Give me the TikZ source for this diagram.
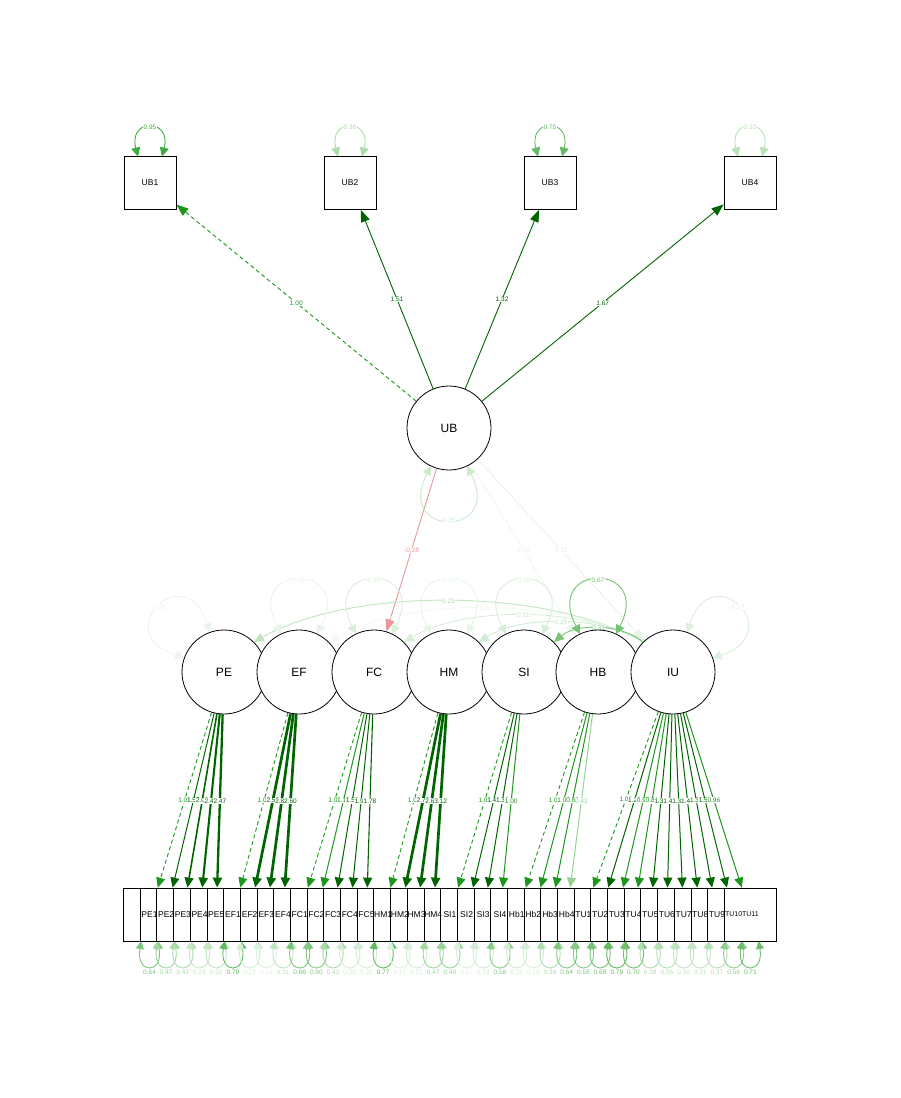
\documentclass[tikz,border=0pt]{standalone}
\usepackage{fontspec}
\setmainfont{Liberation Sans}
\usetikzlibrary{arrows.meta,calc}
\pgfdeclarelayer{bg}
\pgfsetlayers{bg,main}
\definecolor{dg}{RGB}{0,100,0}
\definecolor{mg}{RGB}{30,150,30}
\definecolor{lg}{RGB}{150,210,150}
\definecolor{gb}{RGB}{50,165,50}
\definecolor{negr}{RGB}{232,150,150}
\tikzset{
  obs/.style={draw, fill=white, rectangle, minimum width=52pt, minimum height=53pt,
    inner sep=0pt, line width=0.8pt, font=\fontsize{8.5}{8.5}\selectfont},
  lat/.style={draw, fill=white, circle, minimum size=84pt, inner sep=0pt,
    line width=0.8pt, font=\fontsize{12}{12}\selectfont},
  olab/.style={inner sep=0pt, font=\fontsize{8.5}{8.5}\selectfont},
  elab/.style={fill=white, inner sep=0.5pt, font=\fontsize{6.5}{6.5}\selectfont},
  arr/.style={-{Triangle[length=10pt,width=9pt]}},
  arrbig/.style={-{Triangle[length=12pt,width=9pt]}},
  loopar/.style={{Triangle[length=9pt,width=9pt]}-{Triangle[length=9pt,width=9pt]}},
  sloopar/.style={{Triangle[length=8pt,width=8pt]}-{Triangle[length=8pt,width=8pt]}},
  edge/.style={line width=0.9pt},
  dsh/.style={dash pattern=on 4pt off 3pt},
  sol/.style={solid},
}
% variance loop on a latent variable, turned by #2 degrees from the top
\newcommand\latloop[4]{%
  \begin{scope}[shift={(#1.center)}, rotate=#2]
    \draw[edge, #4, loopar] (-18,-38) .. controls (-55,-110) and (55,-110) .. (18,-38)
      node[elab, pos=0.5, text=#4] {#3};
  \end{scope}}
% variance loop above an indicator box
\newcommand\boxloop[3]{%
  \draw[edge, #3, loopar] ($(#1.center)+(-12,-26.5)$) .. controls ($(#1.center)+(-22,-65)$)
    and ($(#1.center)+(22,-65)$) .. ($(#1.center)+(12,-26.5)$)
    node[elab, pos=0.5, text=#3] {#2};}
\begin{document}
\begin{tikzpicture}[x=1pt, y=-1pt]
\useasboundingbox (0,0) rectangle (900,1098);
\begin{pgfonlayer}{bg}
  \fill[white] (0,0) rectangle (900,1098);
\end{pgfonlayer}

% indicators of UB
\foreach \nm/\x in {UB1/150, UB2/350, UB3/550, UB4/750}
  \node[obs] (\nm) at (\x,183) {\nm};

% latent variables
\node[lat] (UB) at (449,428) {UB};
\foreach \nm/\x in {PE/224, EF/299, FC/374, HM/449, SI/524, HB/598, IU/673}
  \node[lat] (\nm) at (\x,672) {\nm};

% row of indicator boxes (overlapping), labels on top
\foreach \k in {0,...,36}
  \node[obs] (o\k) at ({149.5+16.69*\k},914.5) {};
\foreach \nm [count=\k from 0] in {PE1,PE2,PE3,PE4,PE5,EF1,EF2,EF3,EF4,FC1,FC2,FC3,FC4,FC5,
    HM1,HM2,HM3,HM4,SI1,SI2,SI3,SI4,Hb1,Hb2,Hb3,Hb4,TU1,TU2,TU3,TU4,TU5,TU6,TU7,TU8,TU9}
  \node[olab] at (o\k) {\nm};
\node[olab, font=\fontsize{7}{7}\selectfont] at (o35) {TU10};
\node[olab, font=\fontsize{7}{7}\selectfont] at (o36) {TU11};

\begin{pgfonlayer}{bg}
  % loadings of UB
  \draw[edge, mg, dsh, arrbig] (UB) -- (UB1) node[elab, pos=0.5, text=mg] {1.00};
  \draw[edge, dg, arrbig] (UB) -- (UB2) node[elab, pos=0.5, text=dg] {1.51};
  \draw[edge, dg, arrbig] (UB) -- (UB3) node[elab, pos=0.5, text=dg] {1.32};
  \draw[edge, dg, arrbig] (UB) -- (UB4) node[elab, pos=0.5, text=dg] {1.67};

  % variances of the UB indicators
  \boxloop{UB1}{0.95}{gb!95!white}
  \boxloop{UB2}{0.39}{gb!39!white}
  \boxloop{UB3}{0.75}{gb!75!white}
  \boxloop{UB4}{0.33}{gb!33!white}

  % paths leaving UB
  \draw[edge, negr, arrbig] (UB) -- (FC) node[elab, pos=0.5, text=negr] {-0.28};
  \draw[line width=0.8pt, gb!8!white, arrbig] (UB) -- (HB) node[elab, pos=0.5, text=gb!12!white] {0.08};
  \draw[line width=0.8pt, gb!12!white, arrbig] (UB) -- (IU) node[elab, pos=0.5, text=gb!16!white] {0.12};

  % curved paths from IU
  \draw[edge, gb!30!white, arr] (IU.135) .. controls (546,587) and (351,587) .. (PE.45)
    node[elab, pos=0.5, text=gb!40!white] {0.23};
  \draw[edge, gb!6!white, arr] (IU.135) .. controls (564.5,596.7) and (407.5,596.7) .. (EF.45)
    node[elab, pos=0.5, text=gb!12!white] {0.02};
  \draw[edge, gb!18!white, arr] (IU.135) .. controls (583,606) and (464,606) .. (FC.45)
    node[elab, pos=0.5, text=gb!25!white] {0.21};
  \draw[edge, gb!22!white, arr] (IU.135) .. controls (602,615.3) and (520,615.3) .. (HM.45)
    node[elab, pos=0.5, text=gb!30!white] {0.25};
  \draw[edge, gb!65!white, arr] (IU.135) .. controls (621,623.3) and (576,623.3) .. (SI.45)
    node[elab, pos=0.5, text=gb!65!white] {0.33};

  % latent variances
  \latloop{UB}{180}{0.25}{gb!25!white}
  \latloop{PE}{45}{0.08}{gb!10!white}
  \latloop{EF}{0}{0.09}{gb!11!white}
  \latloop{FC}{0}{0.18}{gb!18!white}
  \latloop{HM}{0}{0.09}{gb!11!white}
  \latloop{SI}{0}{0.19}{gb!19!white}
  \latloop{HB}{0}{0.67}{gb!67!white}
  \latloop{IU}{-45}{0.17}{gb!17!white}

  % factor loadings
  \foreach \lt/\k/\val/\cl/\lw/\ds in {
    PE/0/1.00/mg/0.9/dsh, PE/1/1.57/dg/1.0/sol, PE/2/2.03/dg/1.6/sol, PE/3/2.42/dg/2.1/sol, PE/4/2.47/dg/2.3/sol,
    EF/5/1.00/mg/0.9/dsh, EF/6/2.52/dg/2.7/sol, EF/7/2.82/dg/2.7/sol, EF/8/2.60/dg/2.7/sol,
    FC/9/1.00/mg/0.9/dsh, FC/10/1.18/mg/1.0/sol, FC/11/1.56/dg/1.0/sol, FC/12/1.97/dg/1.0/sol, FC/13/1.78/dg/1.1/sol,
    HM/14/1.00/mg/0.9/dsh, HM/15/2.72/dg/2.7/sol, HM/16/2.63/dg/2.7/sol, HM/17/3.12/dg/2.7/sol,
    SI/18/1.00/mg/0.9/dsh, SI/19/1.41/dg/1.0/sol, SI/20/1.38/dg/1.0/sol, SI/21/1.00/mg/1.0/sol,
    HB/22/1.00/mg/0.9/dsh, HB/23/1.03/mg/1.0/sol, HB/24/0.89/mg/1.0/sol, HB/25/0.43/lg/1.0/sol,
    IU/26/1.00/mg/0.9/dsh, IU/27/1.20/dg/1.0/sol, IU/28/0.97/mg/1.0/sol, IU/29/0.81/mg/1.0/sol,
    IU/30/1.38/dg/1.0/sol, IU/31/1.49/dg/1.0/sol, IU/32/1.39/dg/1.0/sol, IU/33/1.45/dg/1.0/sol,
    IU/34/1.39/dg/1.0/sol, IU/35/1.56/dg/1.0/sol, IU/36/0.96/mg/1.0/sol}
    \draw[\cl, line width=\lw pt, \ds, arr] (\lt) -- (o\k) node[elab, pos=0.5, text=\cl] {\val};

  % residual variances of the indicators
  \foreach \rv [count=\k from 0] in {0.64,0.47,0.42,0.28,0.30,0.79,0.22,0.16,0.31,0.66,0.60,0.42,
      0.22,0.21,0.77,0.17,0.21,0.47,0.49,0.17,0.22,0.58,0.22,0.19,0.38,0.64,0.58,0.68,0.79,
      0.70,0.38,0.35,0.30,0.31,0.37,0.56,0.71} {
    \pgfmathtruncatemacro\pc{100*\rv}
    \draw[edge, gb!\pc!white, sloopar] ($(o\k.center)+(-8.3,26.5)$) .. controls ($(o\k.center)+(-14,60)$)
      and ($(o\k.center)+(14,60)$) .. ($(o\k.center)+(8.3,26.5)$);
    \node[elab, text=gb!\pc!white] at ($(o\k.center)+(0,58)$) {\rv};
  }
\end{pgfonlayer}
\end{tikzpicture}
\end{document}
